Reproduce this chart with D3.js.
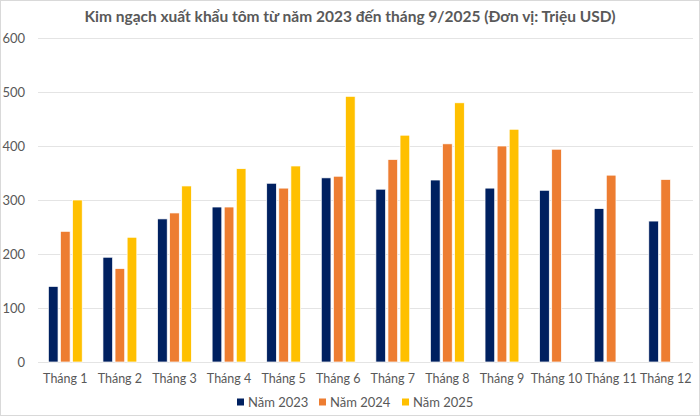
<!DOCTYPE html>
<html>
<head>
<meta charset="utf-8">
<script src="https://cdn.jsdelivr.net/npm/d3@7"></script>
<style>
  html, body { margin: 0; padding: 0; background: #fff; }
  svg { display: block; font-family: Lato, "Open Sans", sans-serif; }
</style>
</head>
<body>
<svg id="chart" width="700" height="416"></svg>
<script>
const categories = ["Tháng 1","Tháng 2","Tháng 3","Tháng 4","Tháng 5","Tháng 6","Tháng 7","Tháng 8","Tháng 9","Tháng 10","Tháng 11","Tháng 12"];
const seriesNames = ["Năm 2023","Năm 2024","Năm 2025"];
const values2023 = [140, 194, 265, 287, 331, 341, 320, 337, 322, 318, 284, 261];
const values2024 = [242, 173, 276, 287, 322, 344, 375, 404, 400, 394, 346, 338];
const values2025 = [300, 231, 326, 358, 363, 492, 420, 480, 431, null, null, null];
const yTicks = [0, 100, 200, 300, 400, 500, 600];
const colors = ["#002060", "#ED7D31", "#FFC000"];
const title = "Kim ngạch xuất khẩu tôm từ năm 2023 đến tháng 9/2025 (Đơn vị: Triệu USD)";

const allSeries = [values2023, values2024, values2025];
const W = 700, H = 416;
const margin = {left: 38, right: 7, top: 38, bottom: 54};
const svg = d3.select("#chart");

svg.append("rect").attr("x", 0.5).attr("y", 0.5).attr("width", W - 1).attr("height", H - 1)
  .attr("fill", "#fff").attr("stroke", "#d9d9d9");

const x0 = d3.scaleBand().domain(categories).range([margin.left, W - margin.right]).paddingInner(0.38).paddingOuter(0.19);
const x1 = d3.scaleBand().domain(seriesNames).range([0, x0.bandwidth()]).paddingInner(0.2);
const y = d3.scaleLinear().domain([0, 600]).range([H - margin.bottom, margin.top]);

// grid
const yAxis = d3.axisLeft(y).tickValues(yTicks).tickSize(-(W - margin.left - margin.right)).tickPadding(13);
const gy = svg.append("g").attr("transform", `translate(${margin.left},0)`).call(yAxis);
gy.select(".domain").remove();
gy.selectAll(".tick line").attr("stroke", "#e4e4e4").attr("stroke-width", 1);
gy.selectAll(".tick text").attr("fill", "#595959").style("font-size", "13px").style("font-family", "Lato, sans-serif");

// bars
const groups = svg.append("g").selectAll("g").data(categories).join("g")
  .attr("transform", d => `translate(${x0(d)},0)`);
groups.selectAll("rect")
  .data((c, i) => seriesNames.map((s, j) => ({s, j, v: allSeries[j][i]})).filter(d => d.v != null))
  .join("rect")
  .attr("x", d => x1(d.s))
  .attr("width", x1.bandwidth())
  .attr("y", d => y(d.v))
  .attr("height", d => y(0) - y(d.v))
  .attr("fill", d => colors[d.j])
  .attr("stroke", "#fff")
  .attr("stroke-width", 0.7);

// x axis labels
const xAxis = d3.axisBottom(x0).tickSize(0).tickPadding(12);
const gx = svg.append("g").attr("transform", `translate(0,${y(0)})`).call(xAxis);
gx.select(".domain").remove();
gx.selectAll(".tick text").attr("fill", "#595959").style("font-size", "12.5px").style("font-family", "Lato, sans-serif");

// title
svg.append("text").attr("x", 350).attr("y", 22).attr("text-anchor", "middle")
  .attr("fill", "#595959").style("font-size", "15.5px").style("font-weight", "bold")
  .text(title);

// legend
const legendX = [237, 319, 402];
const lg = svg.append("g").selectAll("g").data(seriesNames).join("g")
  .attr("transform", (d, i) => `translate(${legendX[i]},402)`);
lg.append("rect").attr("x", 0).attr("y", -3.5).attr("width", 7).attr("height", 7).attr("fill", (d, i) => colors[i]);
lg.append("text").attr("x", 11).attr("y", 0).attr("dy", "0.35em").attr("fill", "#595959")
  .style("font-size", "13px").text(d => d);
</script>
</body>
</html>
